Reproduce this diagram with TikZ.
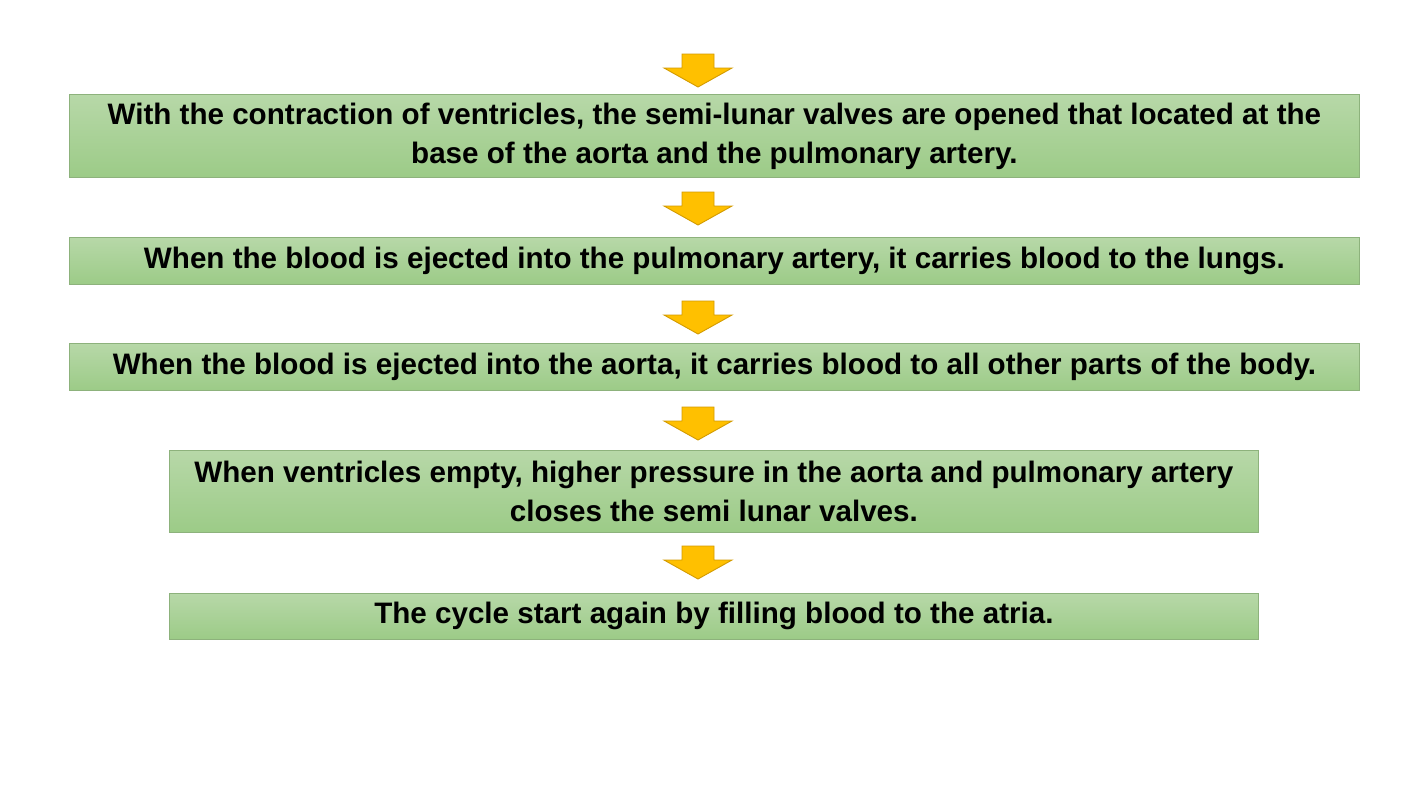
\documentclass[tikz,border=0pt]{standalone}
\usepackage{fontspec}
\setmainfont{Liberation Sans}
\begin{document}
\begin{tikzpicture}[x=1pt,y=-1pt,
  stepbox/.style={draw=boxborder, line width=0.8pt, top color=boxtop, bottom color=boxbot,
    anchor=north west, inner sep=0pt, align=center, font=\fontsize{29.6}{39}\selectfont\bfseries},
  blockarrow/.style={draw=arrowborder, line width=0.9pt, fill=arrowfill, line join=miter}]
\definecolor{boxtop}{HTML}{B7D8A8}
\definecolor{boxbot}{HTML}{9CCB87}
\definecolor{boxborder}{HTML}{8DB27C}
\definecolor{arrowfill}{HTML}{FFC000}
\definecolor{arrowborder}{HTML}{D39B00}
\useasboundingbox[fill=white] (0,0) rectangle (1427,803);
\newcommand{\blockarr}[1]{%
  \draw[blockarrow] (682,#1) -- (714,#1) -- (714,#1+14) -- (732,#1+14) -- (698,#1+33)
    -- (664,#1+14) -- (682,#1+14) -- cycle;}
\blockarr{54}
\node[stepbox, minimum width=1290pt, minimum height=83pt] (s1) at (69,94)
  {With the contraction of ventricles, the semi-lunar valves are opened that located at the\\
   base of the aorta and the pulmonary artery.};
\blockarr{192}
\node[stepbox, minimum width=1290pt, minimum height=47pt] (s2) at (69,237)
  {When the blood is ejected into the pulmonary artery, it carries blood to the lungs.};
\blockarr{301}
\node[stepbox, minimum width=1290pt, minimum height=47pt] (s3) at (69,343)
  {When the blood is ejected into the aorta, it carries blood to all other parts of the body.};
\blockarr{407}
\node[stepbox, minimum width=1089pt, minimum height=82pt] (s4) at (169,450)
  {When ventricles empty, higher pressure in the aorta and pulmonary artery\\
   closes the semi lunar valves.};
\blockarr{546}
\node[stepbox, minimum width=1089pt, minimum height=46pt] (s5) at (169,593)
  {The cycle start again by filling blood to the atria.};
\end{tikzpicture}
\end{document}
